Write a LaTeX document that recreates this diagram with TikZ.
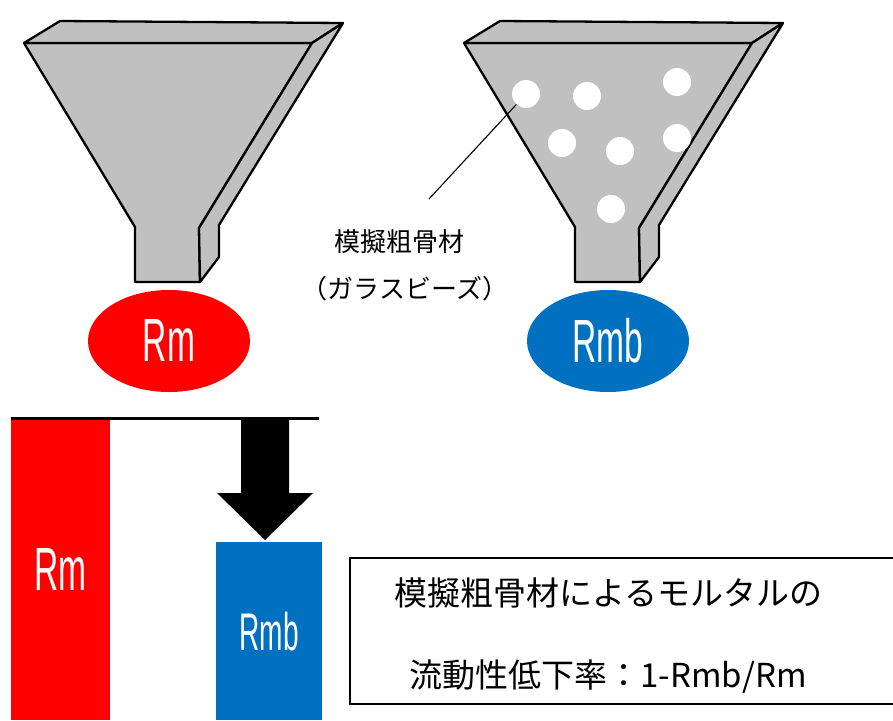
\documentclass[tikz,border=0pt]{standalone}
\usepackage{fontspec}
\setsansfont{Liberation Sans}
\newfontfamily\jpfont{Noto Sans CJK JP}
\usepackage{graphicx}
\usepackage{tikz}
\usetikzlibrary{shapes.geometric,positioning}
\definecolor{rmred}{HTML}{FF0000}
\definecolor{rmblue}{HTML}{0070C0}
\definecolor{funnelgray}{HTML}{C0C0C0}
\newcommand{\narrowtxt}[1]{\scalebox{0.55}[1]{#1}}

\begin{document}
\begin{tikzpicture}[
  x=1pt, y=-1pt,
  face/.style={fill=funnelgray, draw=black, line width=2.3pt, line join=round},
  bead/.style={circle, fill=white, minimum size=28pt, inner sep=0pt},
  flow/.style={ellipse, minimum width=162pt, minimum height=102pt, inner sep=0pt, text=white, font=\sffamily\fontsize{61}{61}\selectfont},
  bar/.style={rectangle, anchor=north west, inner sep=0pt, text=white},
  lbl/.style={font=\jpfont\fontsize{26}{26}\selectfont},
  funnel/.pic={
    % front, rim and side faces
    \draw[face] (24,43) -- (312,43) -- (199,228) -- (200,282) -- (135,282) -- (135,227) -- cycle;
    \draw[face] (24,43) -- (60,21) -- (343,23) -- (312,43) -- cycle;
    \draw[face] (312,43) -- (343,23) -- (219,225) -- (219,257) -- (200,282) -- (199,228) -- cycle;
  }
]
\useasboundingbox (0,0) rectangle (893,720);

% the two funnels
\pic at (0,0) {funnel};
\pic at (440,0) {funnel};

% glass beads
\foreach \n/\x/\y in {1/526/94, 2/587/96, 3/677/82, 4/562/143, 5/620/151, 6/677/138, 7/611/209}
  \node[bead] (b\n) at (\x,\y) {};

\node[lbl] (beadlbl) at (399,242) {模擬粗骨材};
\node[lbl] (beadkind) at (405,289) {（ガラスビーズ）};
\coordinate (leadend) at (429,199);
\draw[line width=1.1pt] (b1) -- (leadend);

% flow values
\node[flow, fill=rmred]  (rm)  at (169,341) {\narrowtxt{Rm}};
\node[flow, fill=rmblue] (rmb) at (608,341) {\narrowtxt{Rmb}};

% bars
\node[bar, fill=rmred, minimum width=99pt, minimum height=302pt, font=\sffamily\fontsize{61}{61}\selectfont] (rmbar) at (11,418) {\narrowtxt{Rm}};
\node[bar, fill=rmblue, minimum width=106pt, minimum height=178pt, font=\sffamily\fontsize{53}{53}\selectfont] (rmbbar) at (216,542) {\scalebox{0.53}[1]{Rmb}};
\draw[line width=3pt] (rmbar.north west) -- ++(308,0);
\fill[black] (241,417) -- (289,417) -- (289,493) -- (313,493) -- (265,540) -- (217,493) -- (241,493) -- cycle;

% reduction ratio
\node[draw, line width=1.5pt, minimum width=560pt, minimum height=146pt, anchor=north west] (ratebox) at (349,557) {};
\node[font=\jpfont\fontsize{33}{82}\selectfont, align=center] (rate) at (608,636) {模擬粗骨材によるモルタルの\\流動性低下率：1-Rmb/Rm};
\end{tikzpicture}
\end{document}
